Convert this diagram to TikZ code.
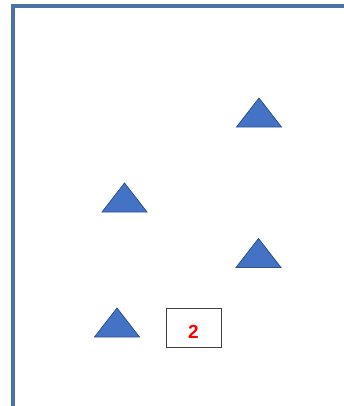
\documentclass[tikz,border=0pt]{standalone}
\usepackage{fontspec}
\setmainfont{Liberation Sans}
\usetikzlibrary{shapes.geometric}

\definecolor{frameblue}{RGB}{74,114,166}
\definecolor{triblue}{RGB}{68,114,196}
\definecolor{triedge}{RGB}{47,82,143}

\begin{document}
\begin{tikzpicture}[
  x=1pt, y=-1pt,
  frame/.style = {draw=frameblue, line width=3.5pt},
  tri/.style   = {isosceles triangle, shape border rotate=90,
                  isosceles triangle stretches, inner sep=0pt,
                  minimum width=45pt, minimum height=29pt,
                  fill=triblue, draw=triedge, line width=0.8pt},
  numbox/.style = {draw=black!75, line width=1pt, minimum width=55pt,
                   minimum height=39pt, inner sep=0pt,
                   text height=22pt, text depth=0pt,
                   font=\fontsize{19}{19}\selectfont\bfseries, text=red},
]
\useasboundingbox (0,0) rectangle (344,406);

% --- frame ---------------------------------------------------------------
\coordinate (fl) at (13,406);
\coordinate (fc) at (13,6);
\coordinate (fr) at (344,6);
\draw[frame] (fl) -- (fc) -- (fr);

% --- triangles -----------------------------------------------------------
\node[tri] (t1) at (259,116) {};
\node[tri] (t2) at (124.5,201) {};
\node[tri] (t3) at (258.5,256.5) {};
\node[tri] (t4) at (117,326) {};

% --- label box -----------------------------------------------------------
\node[numbox] (n2) at (193.5,327.5) {2};

\end{tikzpicture}
\end{document}
